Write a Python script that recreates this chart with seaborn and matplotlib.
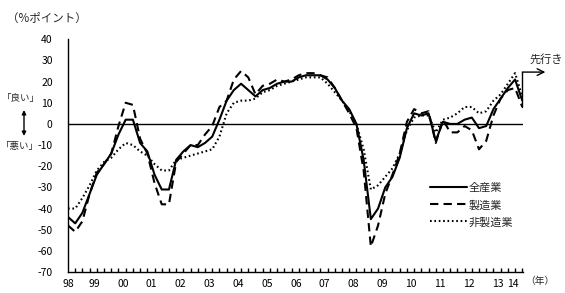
import numpy as np
import pandas as pd
import matplotlib
matplotlib.use("Agg")
import matplotlib.pyplot as plt
import seaborn as sns

# ---- data (quarterly DI, %points; last point = forecast) ----
series_names = ["全産業", "製造業", "非製造業"]
all_industries = [-44, -47, -42, -33, -24, -19, -14, -5, 2, 2,
                  -9, -13, -24, -31, -31, -17, -13, -10, -11, -9,
                  -6, 2, 11, 16, 19, 16, 13, 16, 17, 19,
                  20, 20, 22, 23, 23, 23, 21, 17, 11, 7,
                  0, -17, -45, -40, -30, -25, -16, -2, 5, 4,
                  5, -8, 1, 0, 0, 2, 3, -2, -1, 7,
                  12, 17, 21, 11]
manufacturing = [-48, -51, -46, -33, -23, -19, -14, -1, 10, 9,
                 -7, -14, -28, -38, -38, -18, -14, -10, -10, -5,
                 -1, 8, 11, 21, 25, 22, 14, 18, 19, 21,
                 20, 21, 23, 24, 24, 23, 22, 17, 11, 5,
                 -2, -22, -58, -48, -33, -24, -14, 1, 7, 5,
                 6, -9, 2, -4, -4, -1, -3, -12, -8, 4,
                 12, 16, 17, 8]
non_manufacturing = [-40, -40, -35, -29, -22, -18, -16, -12, -9, -10,
                     -13, -15, -19, -22, -22, -17, -16, -15, -14, -13,
                     -12, -6, 5, 10, 11, 11, 12, 15, 16, 18,
                     19, 20, 21, 22, 22, 22, 19, 15, 11, 6,
                     0, -12, -31, -29, -25, -21, -14, -3, 3, 4,
                     4, -4, 2, 3, 5, 8, 8, 5, 6, 11,
                     14, 19, 24, 13]
year_labels = ["98", "99", "00", "01", "02", "03", "04", "05", "06",
               "07", "08", "09", "10", "11", "12", "13", "14"]
y_ticks = list(range(-70, 41, 10))

sns.set_theme(style="white")
plt.rcParams['font.family'] = ['Noto Sans CJK JP', 'DejaVu Sans']
plt.rcParams['axes.unicode_minus'] = False

n = len(all_industries)
quarter = np.arange(n)
df = pd.DataFrame({
    "quarter": np.tile(quarter, 3),
    "DI": all_industries + manufacturing + non_manufacturing,
    "series": np.repeat(series_names, n),
})

W, H = 565, 293
fig = plt.figure(figsize=(W / 100, H / 100), dpi=100)


def fp(x, y):
    return (x / W, 1 - y / H)


ax = fig.add_axes([68 / W, 1 - 272 / H, 455 / W, (272 - 39.3) / H])
sns.lineplot(data=df, x="quarter", y="DI", hue="series", style="series",
             palette={s: "black" for s in series_names},
             dashes={"全産業": "", "製造業": (4, 2.5), "非製造業": (0.8, 1.3)},
             linewidth=1.5, errorbar=None, ax=ax)

ax.axhline(0, color="black", lw=1, zorder=1)
ax.set_xlim(0, 63.1)
ax.set_ylim(-70, 40)
ax.set_xlabel("")
ax.set_ylabel("")
for s in ["top", "right"]:
    ax.spines[s].set_visible(False)
for s in ["left", "bottom"]:
    ax.spines[s].set_color("black")
    ax.spines[s].set_linewidth(1)

ax.set_yticks(y_ticks)
ax.tick_params(axis="y", direction="in", length=4, width=1, pad=11,
               labelsize=7.5, colors="black")
label_pos = [0] + [4 * k - 0.4 for k in range(1, 16)] + [61.7]
ax.set_xticks(label_pos, labels=year_labels)
ax.tick_params(axis="x", which="major", length=0, pad=5, labelsize=7.5,
               colors="black")
ax.set_xticks(np.arange(0, 64), minor=True)
ax.tick_params(axis="x", which="minor", direction="in", length=3, width=1,
               color="black", bottom=True)

# legend
handles, labels = ax.get_legend_handles_labels()
ax.legend(handles, labels, loc="upper left", bbox_to_anchor=fp(430, 183),
          bbox_transform=fig.transFigure, frameon=False, handlelength=3.3,
          fontsize=8, labelspacing=0.6, handletextpad=0.2, borderpad=0,
          borderaxespad=0)

# annotations
fig.text(*fp(47, 18), "（%ポイント）", fontsize=8.3, ha="center", va="center")
fig.text(*fp(21, 99), "「良い」", fontsize=6.8, ha="center", va="center")
fig.text(*fp(19.5, 146), "「悪い」", fontsize=6.8, ha="center", va="center")
ax.annotate("", xy=fp(24, 136), xytext=fp(24, 110), xycoords="figure fraction",
            textcoords="figure fraction",
            arrowprops=dict(arrowstyle="<|-|>", color="black", lw=1,
                            mutation_scale=6, shrinkA=0, shrinkB=0))
fig.text(*fp(540, 281), "（年）", fontsize=7, ha="center", va="center")

ax.plot([63, 63], [8, 24.5], color="black", lw=1, clip_on=False)
ax.annotate("", xy=(66.2, 24.5), xytext=(63, 24.5),
            arrowprops=dict(arrowstyle="->", color="black", lw=1,
                            shrinkA=0, shrinkB=0), annotation_clip=False)
fig.text(*fp(546, 59), "先行き", fontsize=8, ha="center", va="center")

fig.savefig("out.png", dpi=100, facecolor="white")
